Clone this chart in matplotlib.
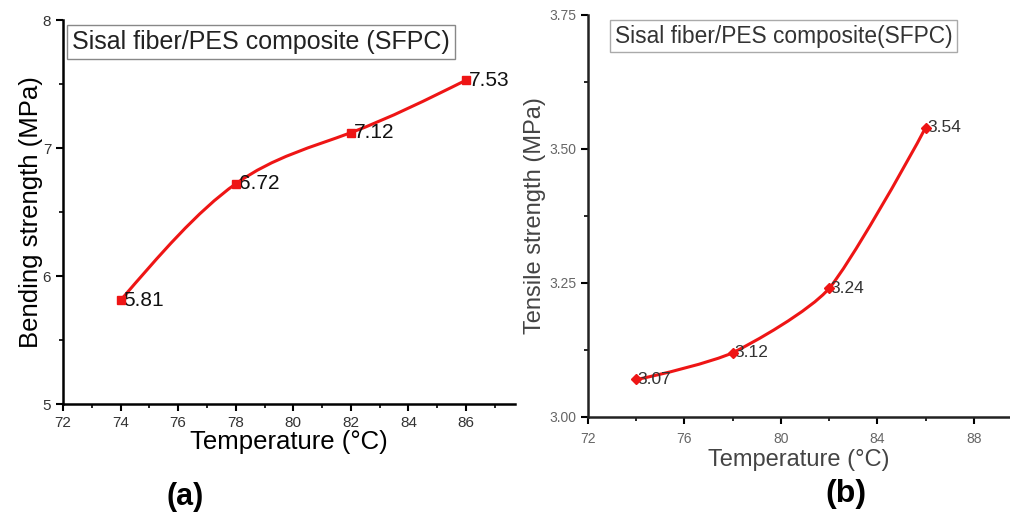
import numpy as np
import matplotlib
matplotlib.use("Agg")
import matplotlib.pyplot as plt
from matplotlib.path import Path
from matplotlib.patches import PathPatch
from matplotlib.ticker import MultipleLocator, FormatStrFormatter

plt.rcParams['font.family'] = ['Liberation Sans', 'DejaVu Sans']

# ---------------- data ----------------
temp_a = [74, 78, 82, 86]
bending = [5.81, 6.72, 7.12, 7.53]
bending_labels = ["5.81", "6.72", "7.12", "7.53"]

temp_b = [74, 78, 82, 86]
tensile = [3.07, 3.12, 3.24, 3.54]
tensile_labels = ["3.07", "3.12", "3.24", "3.54"]

RED = '#ee1515'
W, H = 1010, 513


def natural_tangents(p):
    # tangents of a natural cubic spline (parameter = point index)
    n = len(p)
    A = np.zeros((n, n))
    r = np.zeros_like(p)
    A[0, 0], A[0, 1] = 2, 1
    r[0] = 3 * (p[1] - p[0])
    A[-1, -2], A[-1, -1] = 1, 2
    r[-1] = 3 * (p[-1] - p[-2])
    for i in range(1, n - 1):
        A[i, i - 1], A[i, i], A[i, i + 1] = 1, 4, 1
        r[i] = 3 * (p[i + 1] - p[i - 1])
    return np.linalg.solve(A, r)


def cardinal_tangents(p, tension):
    m = np.zeros_like(p)
    for i in range(1, len(p) - 1):
        m[i] = (p[i + 1] - p[i - 1]) / 2 * tension
    m[0] = (3 * (p[1] - p[0]) * tension - m[1]) / 2
    m[-1] = (3 * (p[-1] - p[-2]) * tension - m[-2]) / 2
    return m


def smooth_path(ax, xs, ys, tension=None, **kw):
    # bezier curve through the data points, drawn by matplotlib
    p = np.column_stack([xs, ys]).astype(float)
    m = natural_tangents(p) if tension is None else cardinal_tangents(p, tension)
    verts = [tuple(p[0])]
    codes = [Path.MOVETO]
    for i in range(len(p) - 1):
        verts += [tuple(p[i] + m[i] / 3), tuple(p[i + 1] - m[i + 1] / 3), tuple(p[i + 1])]
        codes += [Path.CURVE4] * 3
    ax.add_patch(PathPatch(Path(verts, codes), fill=False, **kw))


def box(l, t, r, b):
    return [l / W, 1 - b / H, (r - l) / W, (b - t) / H]


fig = plt.figure(figsize=(W / 100, H / 100), dpi=100)

# ---------------- panel (a) ----------------
ax1 = fig.add_axes(box(63, 20, 515, 404))
ax1.set_xlim(72, 87.7)
ax1.set_ylim(5, 8)
ax1.xaxis.set_major_locator(MultipleLocator(2))
ax1.xaxis.set_minor_locator(MultipleLocator(1))
ax1.yaxis.set_major_locator(MultipleLocator(1))
ax1.yaxis.set_minor_locator(MultipleLocator(0.5))
for s in ['top', 'right']:
    ax1.spines[s].set_visible(False)
for s in ['left', 'bottom']:
    ax1.spines[s].set_linewidth(1.8)
ax1.tick_params(which='major', direction='out', length=5, width=1.5,
                labelsize=11, labelcolor='#333333')
ax1.tick_params(which='minor', direction='out', length=3, width=1.2)

smooth_path(ax1, temp_a, bending, edgecolor=RED, linewidth=2.2, zorder=3)
ax1.plot(temp_a, bending, 's', color=RED, markersize=6, zorder=4)
for x, y, t in zip(temp_a, bending, bending_labels):
    ax1.annotate(t, (x, y), xytext=(2, 0), textcoords='offset points',
                 fontsize=15, va='center', ha='left', color='#111111')

ax1.set_xlabel('Temperature (°C)', fontsize=18.5, labelpad=0)
ax1.set_ylabel('Bending strength (MPa)', fontsize=18.5, labelpad=0)
fig.text(72 / W, 1 - 42 / H, 'Sisal fiber/PES composite (SFPC)', fontsize=18,
         va='center', ha='left', color='#222222',
         bbox=dict(boxstyle='square,pad=0.2', fc='white', ec='#888888', lw=1))
fig.text(185 / W, 1 - 497 / H, '(a)', fontsize=22, fontweight='bold',
         ha='center', va='center')

# ---------------- panel (b) ----------------
ax2 = fig.add_axes(box(588, 15, 1010, 417))
ax2.set_xlim(72, 89.5)
ax2.set_ylim(3.0, 3.75)
ax2.xaxis.set_major_locator(MultipleLocator(4))
ax2.xaxis.set_minor_locator(MultipleLocator(2))
ax2.yaxis.set_major_locator(MultipleLocator(0.25))
ax2.yaxis.set_minor_locator(MultipleLocator(0.125))
ax2.yaxis.set_major_formatter(FormatStrFormatter('%.2f'))
for s in ['top', 'right']:
    ax2.spines[s].set_visible(False)
for s in ['left', 'bottom']:
    ax2.spines[s].set_linewidth(1.8)
    ax2.spines[s].set_color('#222222')
ax2.tick_params(which='major', direction='out', length=5, width=1.5,
                labelsize=10, labelcolor='#666666')
ax2.tick_params(axis='x', which='major', pad=6)
ax2.tick_params(which='minor', direction='out', length=3, width=1.2)

smooth_path(ax2, temp_b, tensile, tension=0.6, edgecolor=RED, linewidth=2.2, zorder=3)
ax2.plot(temp_b, tensile, 'D', color=RED, markersize=5, zorder=4)
for x, y, t in zip(temp_b, tensile, tensile_labels):
    ax2.annotate(t, (x, y), xytext=(1, 0), textcoords='offset points',
                 fontsize=12.5, va='center', ha='left', color='#333333')

ax2.set_xlabel('Temperature (°C)', fontsize=17, labelpad=2, color='#444444')
ax2.set_ylabel('Tensile strength (MPa)', fontsize=17, labelpad=2, color='#444444')
fig.text(615 / W, 1 - 36 / H, 'Sisal fiber/PES composite(SFPC)', fontsize=16.4,
         va='center', ha='left', color='#333333',
         bbox=dict(boxstyle='square,pad=0.2', fc='white', ec='#aaaaaa', lw=1))
fig.text(846 / W, 1 - 494 / H, '(b)', fontsize=23, fontweight='bold',
         ha='center', va='center')

fig.savefig('out.png', dpi=100)
